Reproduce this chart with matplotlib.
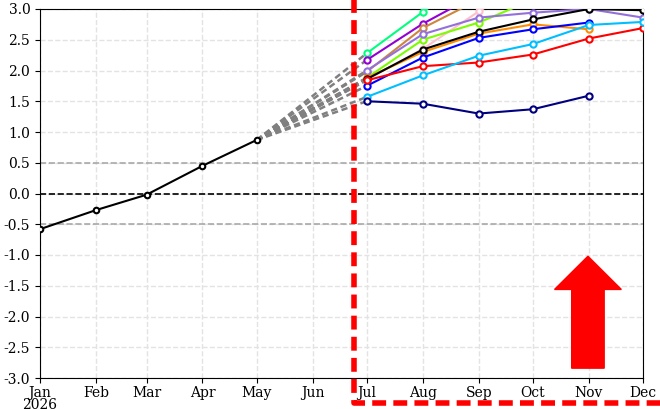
import datetime as dt
import matplotlib
matplotlib.use("Agg")
import matplotlib.pyplot as plt
import matplotlib.dates as mdates
from matplotlib.patches import FancyArrow

plt.rcParams['font.family'] = 'DejaVu Serif'
plt.rcParams['font.size'] = 10

# DATA ---------------------
obs_months = [1, 2, 3, 4, 5]
obs_vals = [-0.58, -0.27, -0.02, 0.45, 0.87]

fc_months = [7, 8, 9, 10, 11, 12]
models = {
    'springgreen': [2.28, 2.95, 3.60],
    'darkviolet': [2.17, 2.76, 3.25],
    'peru': [1.98, 2.69, 3.15],
    'pink': [1.85, 2.35, 2.96, 3.50],
    'lawngreen': [1.88, 2.50, 2.78, 3.15],
    'mediumpurple': [2.00, 2.59, 2.86, 2.94, 3.00, 2.86],
    'darkorange': [1.88, 2.30, 2.60, 2.75, 2.67],
    'black': [1.86, 2.34, 2.63, 2.83, 3.00, 2.98],
    'blue': [1.75, 2.21, 2.53, 2.67, 2.78],
    'red': [1.84, 2.07, 2.13, 2.26, 2.52, 2.69],
    'deepskyblue': [1.57, 1.92, 2.24, 2.43, 2.74, 2.79],
    'navy': [1.50, 1.46, 1.30, 1.37, 1.59],
}

month_names = ['Jan', 'Feb', 'Mar', 'Apr', 'May', 'Jun',
               'Jul', 'Aug', 'Sep', 'Oct', 'Nov', 'Dec']


def d(m, day=1):
    return dt.datetime(2026, m, day)


# PLOTTING ----------------
fig = plt.figure(figsize=(6.6, 4.09), dpi=100)
ax = fig.add_axes([40/660, 31/409, 603/660, 369/409])

obs_dates = [d(m) for m in obs_months]

# dashed links from last observation to first forecast month
for c, vals in models.items():
    ax.plot([obs_dates[-1], d(fc_months[0])], [obs_vals[-1], vals[0]],
            color='gray', lw=1.8, dashes=(2.5, 1.5), zorder=2)

for c, vals in models.items():
    ds = [d(m) for m in fc_months[:len(vals)]]
    ax.plot(ds, vals, color=c, lw=1.5, marker='o', ms=4.5,
            mfc='white', mec=c, mew=1.5, zorder=3)

ax.plot(obs_dates, obs_vals, color='black', lw=1.5, marker='o', ms=4,
        mfc='white', mec='black', mew=1.5, zorder=4)

ax.axhline(0, color='black', ls='--', lw=1.2, zorder=1)
ax.axhline(0.5, color='darkgray', ls='--', lw=1.2, zorder=1)
ax.axhline(-0.5, color='darkgray', ls='--', lw=1.2, zorder=1)

ax.set_xlim(d(1), d(12))
ax.set_ylim(-3, 3)
ax.set_yticks([i * 0.5 for i in range(-6, 7)])
ax.set_yticklabels([f'{i * 0.5:.1f}' for i in range(-6, 7)])
ax.set_xticks([d(m) for m in range(1, 13)])
ax.set_xticklabels(['Jan\n2026'] + month_names[1:], linespacing=0.85)
ax.tick_params(axis='x', pad=2)
ax.grid(True, color='#e3e3e3', ls='--', lw=1)
ax.set_axisbelow(True)

# red dashed forecast box (runs outside the axes)
x0 = mdates.date2num(d(6, 24))
x1 = mdates.date2num(dt.datetime(2027, 1, 15))
ax.plot([x0, x0, x1], [3.6, -3.41, -3.41], color='red', lw=4,
        dashes=(2.5, 1.3), clip_on=False, zorder=6)

# upward arrow
xa = mdates.date2num(d(11, 1)) - 0.5
ax.add_patch(FancyArrow(xa, -2.84, 0, 1.82, width=18, head_width=37,
                        head_length=0.54, length_includes_head=True,
                        color='red', zorder=6))

fig.savefig('out.png', dpi=100)
